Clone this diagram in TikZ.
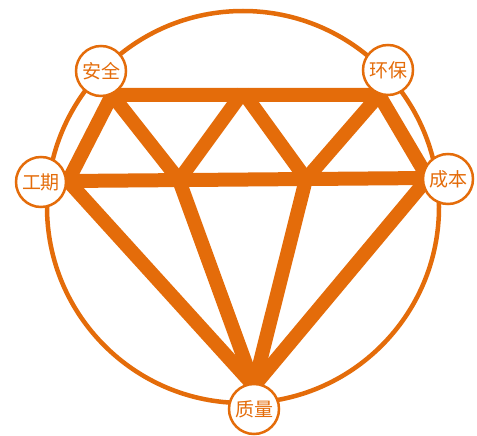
\documentclass[tikz,border=0pt]{standalone}
\usepackage{fontspec}
\newfontfamily\cjkfont{Noto Sans CJK SC}
\definecolor{gemOrange}{HTML}{E46C0A}
\begin{document}
\begin{tikzpicture}[x=1pt, y=-1pt]
% Diamond of project goals
\providecommand{\gemRingWidth}{4.5pt}
\providecommand{\gemBarWidth}{14pt}
\providecommand{\gemTagWidth}{2.5pt}
\tikzset{
  bar/.style={draw=gemOrange, line width=\gemBarWidth},
  tag/.style={circle, draw=gemOrange, fill=white, line width=\gemTagWidth,
    minimum size=50pt, inner sep=0pt, text=gemOrange,
    font=\cjkfont\fontsize{19}{19}\selectfont}
}
\useasboundingbox (0,0) rectangle (477,436);
% Outer ring
\draw[gemOrange, line width=\gemRingWidth] (243,207) circle[radius=196pt];
% Diamond corners
\coordinate (tl) at (112,95);
\coordinate (tm) at (243,92);
\coordinate (tr) at (379,95);
\coordinate (ml) at (68,181);
\coordinate (mr) at (428,178);
\coordinate (il) at (179,180);
\coordinate (ir) at (306,179);
\coordinate (bt) at (254,386);
% Diamond bars
\begin{scope}[line join=miter]
  \draw[bar] (tr) -- (tl) -- (ml) -- (bt) -- (mr) -- cycle;
  \draw[bar] (ml) -- (mr);
\end{scope}
\begin{scope}[line cap=butt]
  \draw[bar] (tl) -- (il);
  \draw[bar] (il) -- (tm);
  \draw[bar] (tm) -- (ir);
  \draw[bar] (ir) -- (tr);
  \draw[bar] (il) -- (bt);
  \draw[bar] (ir) -- (bt);
\end{scope}
% Goal tags
\node[tag] (anquan)  at (101,71)  {安全};
\node[tag] (huanbao) at (388,70)  {环保};
\node[tag] (gongqi)  at (41,182)  {工期};
\node[tag] (chengben) at (448,179) {成本};
\node[tag] (zhiliang) at (254,409) {质量};
\end{tikzpicture}
\end{document}
